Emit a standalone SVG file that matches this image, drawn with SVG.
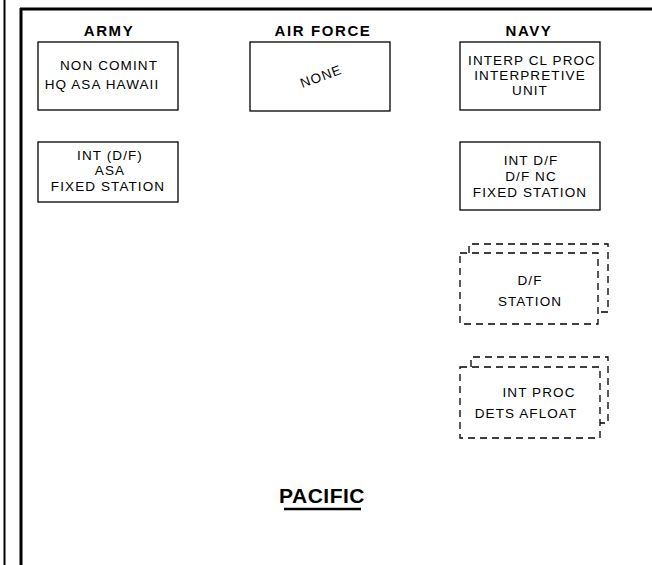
<svg xmlns="http://www.w3.org/2000/svg" width="652" height="565" viewBox="0 0 652 565">
<style>
.box{fill:none;stroke:#000;stroke-width:1.3}
.dash{fill:none;stroke:#000;stroke-width:1.3;stroke-dasharray:7,5}
.t{font-family:"Liberation Sans",Arial,sans-serif;font-size:13.5px;letter-spacing:1.1px;fill:#000;text-anchor:middle}
.h{font-family:"Liberation Sans",Arial,sans-serif;font-size:15px;letter-spacing:1.6px;font-weight:bold;fill:#000;text-anchor:middle}
</style>
<rect width="652" height="565" fill="#fff"/>
<g id="frame">
<line x1="4.5" y1="0" x2="4.5" y2="565" stroke="#000" stroke-width="2"/>
<line x1="21" y1="8" x2="21" y2="565" stroke="#000" stroke-width="3"/>
<line x1="20" y1="9" x2="652" y2="9" stroke="#000" stroke-width="3"/>
</g>
<g id="headers">
<text class="h" x="109" y="36">ARMY</text>
<text class="h" x="323" y="36">AIR FORCE</text>
<text class="h" x="529" y="36">NAVY</text>
</g>
<g id="army-noncomint">
<rect class="box" x="38" y="42" width="140" height="68"/>
<text class="t" x="109" y="70">NON COMINT</text>
<text class="t" x="102" y="89">HQ ASA HAWAII</text>
</g>
<g id="army-int">
<rect class="box" x="38" y="142" width="140" height="60"/>
<text class="t" x="110" y="160">INT (D/F)</text>
<text class="t" x="110" y="175">ASA</text>
<text class="t" x="108" y="191">FIXED STATION</text>
</g>
<g id="airforce-none">
<rect class="box" x="250" y="42" width="140" height="69"/>
<text class="t" x="321" y="81" transform="rotate(-20 321 76)">NONE</text>
</g>
<g id="navy-interp">
<rect class="box" x="460" y="42" width="140" height="68"/>
<text class="t" x="532" y="65">INTERP CL PROC</text>
<text class="t" x="530" y="80">INTERPRETIVE</text>
<text class="t" x="530" y="95">UNIT</text>
</g>
<g id="navy-int-df">
<rect class="box" x="460" y="142" width="140" height="68"/>
<text class="t" x="531" y="165">INT D/F</text>
<text class="t" x="531" y="181">D/F NC</text>
<text class="t" x="530" y="197">FIXED STATION</text>
</g>
<g id="navy-df-station">
<path class="dash" d="M469 253 V244 H608 V312 H598"/>
<rect class="dash" x="460" y="253" width="138" height="71"/>
<text class="t" x="530" y="285">D/F</text>
<text class="t" x="530" y="306">STATION</text>
</g>
<g id="navy-int-proc">
<path class="dash" d="M471 367 V357 H608 V423 H600"/>
<rect class="dash" x="460" y="367" width="140" height="71"/>
<text class="t" x="539" y="397">INT PROC</text>
<text class="t" x="526" y="418">DETS AFLOAT</text>
</g>
<g id="connectors"></g>
<g id="title">
<text class="h" x="322" y="503" style="font-size:21px;letter-spacing:0.5px">PACIFIC</text>
<line x1="284" y1="509" x2="361" y2="509" stroke="#000" stroke-width="2.5"/>
</g>
</svg>
